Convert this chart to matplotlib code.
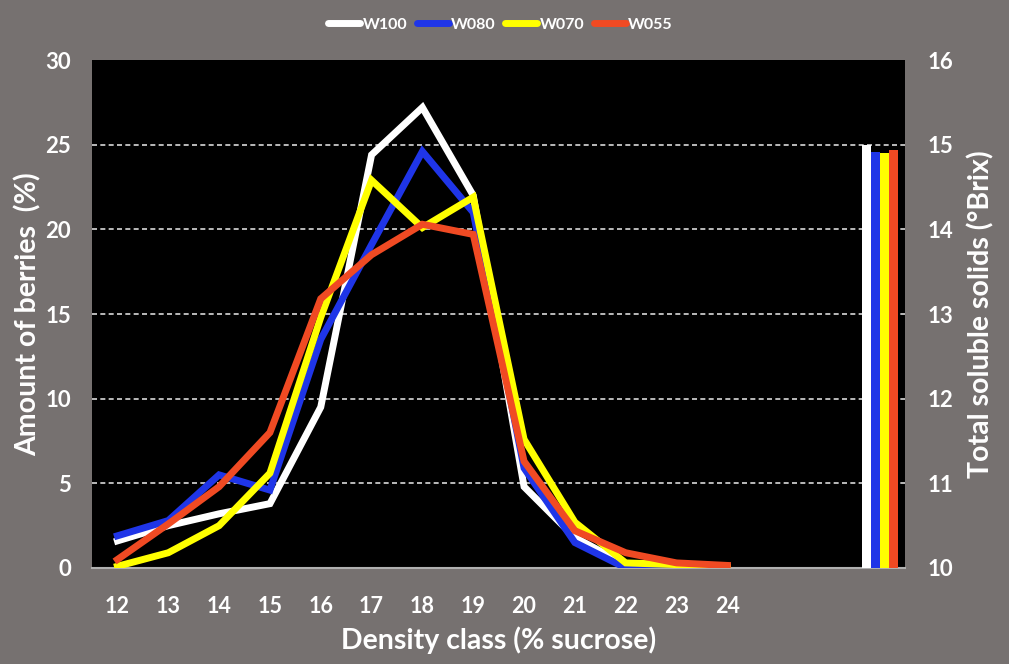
import matplotlib
matplotlib.use("Agg")
import matplotlib.pyplot as plt
from matplotlib.lines import Line2D
import numpy as np

# ---- data ----
density_classes = ["12", "13", "14", "15", "16", "17", "18", "19", "20", "21", "22", "23", "24"]
n_slots = 16  # 13 classes + 2 empty slots + 1 slot for Brix bars
series_names = ["W100", "W080", "W070", "W055"]
w100 = [1.6, 2.5, 3.2, 3.8, 9.5, 24.4, 27.2, 22.0, 4.8, 1.8, 0.2, 0.0, 0.0]
w080 = [1.9, 2.8, 5.5, 4.6, 13.5, 19.1, 24.6, 21.0, 5.9, 1.5, 0.0, 0.0, 0.0]
w070 = [0.1, 0.9, 2.5, 5.6, 14.8, 22.9, 20.1, 21.9, 7.6, 2.7, 0.3, 0.2, 0.05]
w055 = [0.5, 2.6, 4.8, 8.0, 15.9, 18.5, 20.3, 19.7, 6.3, 2.2, 0.9, 0.3, 0.15]
brix = [15.0, 14.91, 14.90, 14.94]
colors = ["#ffffff", "#1f35e8", "#ffff00", "#f04a23"]

left_ticks = [0, 5, 10, 15, 20, 25, 30]
right_ticks = [10, 11, 12, 13, 14, 15, 16]

bg = "#767170"
plt.rcParams["font.family"] = ["Lato", "DejaVu Sans"]
plt.rcParams["font.weight"] = "bold"

fig = plt.figure(figsize=(10.09, 6.64), dpi=100, facecolor=bg)
ax = fig.add_axes([0.0912, 0.1446, 0.806, 0.765])
ax.set_facecolor("black")

x = np.arange(len(density_classes))
for vals, c, name in zip([w100, w080, w070, w055], colors, series_names):
    ax.plot(x, vals, color=c, lw=5, solid_joinstyle="miter", zorder=3, label=name)

ax.set_xlim(-0.5, n_slots - 0.5)
ax.set_ylim(0, 30)
ax.set_yticks(left_ticks)
ax.set_xticks(x)
ax.set_xticklabels(density_classes)
for gy in left_ticks[1:-1]:
    ax.axhline(gy, color="#d9d9d9", lw=1.2, ls=(0, (3, 2)), zorder=1)

for s in ["top", "left", "right"]:
    ax.spines[s].set_visible(False)
ax.spines["bottom"].set_color("#b0b0b0")
ax.spines["bottom"].set_linewidth(1.5)
ax.tick_params(axis="y", length=0, colors="white", labelsize=16, pad=15)
ax.tick_params(axis="x", length=0, colors="white", labelsize=15.5, pad=20)
for lab in ax.get_xticklabels() + ax.get_yticklabels():
    lab.set_fontweight("bold")

ax.set_xlabel("Density class (% sucrose)", color="white", fontsize=20.5, fontweight="bold", labelpad=7)
ax.set_ylabel("Amount of berries  (%)", color="white", fontsize=20.5, fontweight="bold", labelpad=3)

ax2 = ax.twinx()
ax2.set_ylim(10, 16)
ax2.set_yticks(right_ticks)
bw = 0.178
slot = n_slots - 1
for i, (v, c) in enumerate(zip(brix, colors)):
    ax2.bar(slot + (i - 1.5) * bw, v - 10, bottom=10, width=bw, color=c, edgecolor="none", zorder=3)
for s in ["top", "left", "right", "bottom"]:
    ax2.spines[s].set_visible(False)
ax2.tick_params(axis="y", length=0, colors="white", labelsize=16, pad=16)
for lab in ax2.get_yticklabels():
    lab.set_fontweight("bold")
ax2.set_ylabel("Total soluble solids (°Brix)", color="white", fontsize=20.5, fontweight="bold", labelpad=10)

handles = [Line2D([0], [0], color=c, lw=5, solid_capstyle="round") for c in colors]
leg = fig.legend(handles, series_names, loc="upper center", bbox_to_anchor=(0.496, 0.995), ncol=4,
                 frameon=False, handlelength=2.0, handletextpad=0.15, columnspacing=0.6,
                 prop={"size": 11.5, "weight": "bold"})
for t in leg.get_texts():
    t.set_color("white")

fig.savefig("out.png", dpi=100, facecolor=bg)
